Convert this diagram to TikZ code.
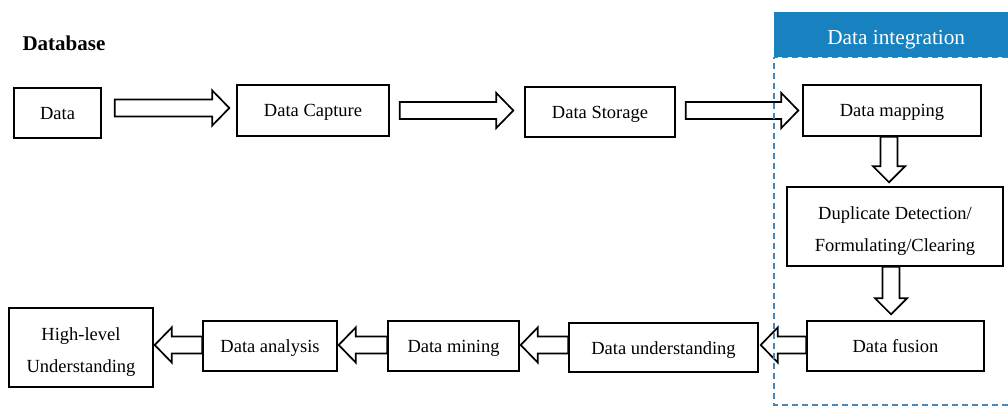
\documentclass[tikz,border=0pt]{standalone}
\usepackage{fontspec}
\setmainfont{Liberation Serif}
\usetikzlibrary{calc}

\definecolor{headblue}{RGB}{24,130,192}
\definecolor{dashblue}{RGB}{74,134,184}

\tikzset{
  stepbox/.style={draw=black, line width=1.4pt, fill=white, inner sep=0pt,
    align=center, font=\fontsize{18.5}{32}\selectfont,
    text height=13pt, text depth=0pt},
  twoline/.style={text height=49pt, text depth=0pt},
  blockarrow/.style={draw=black, line width=1.7pt, fill=white, line join=miter},
  dashline/.style={draw=dashblue, line width=1.4pt, dash pattern=on 6pt off 4pt},
  headerbox/.style={fill=headblue, minimum width=234pt, minimum height=45pt, inner sep=0pt},
}

% horizontal block arrow: tail centre #1, tip x taken from #2
\newcommand\harrow[2]{%
  \draw[blockarrow] let \p1=(#1), \p2=(#2), \n1={ifthenelse(\x2>\x1,1,-1)} in
    (\x1,{\y1+8.5pt}) -- ({\x2-\n1*17pt},{\y1+8.5pt}) -- ({\x2-\n1*17pt},{\y1+17.5pt})
    -- (\x2,\y1) -- ({\x2-\n1*17pt},{\y1-17.5pt}) -- ({\x2-\n1*17pt},{\y1-8.5pt})
    -- (\x1,{\y1-8.5pt}) -- cycle;}

% vertical block arrow: tail centre #1, tip y taken from #2
\newcommand\varrow[2]{%
  \draw[blockarrow] let \p1=(#1), \p2=(#2), \n1={ifthenelse(\y2>\y1,1,-1)} in
    ({\x1-8.5pt},\y1) -- ({\x1-8.5pt},{\y2-\n1*16pt}) -- ({\x1-16pt},{\y2-\n1*16pt})
    -- (\x1,\y2) -- ({\x1+16pt},{\y2-\n1*16pt}) -- ({\x1+8.5pt},{\y2-\n1*16pt})
    -- ({\x1+8.5pt},\y1) -- cycle;}

\begin{document}
\begin{tikzpicture}[x=1pt, y=-1pt]
\useasboundingbox (0,0) rectangle (1008,406);

% title
\node[font=\fontsize{21}{25}\selectfont\bfseries] (title) at (64,43) {Database};

% integration header
\node[headerbox, anchor=north west] (hdr) at (774,12) {};
\node[text=white, font=\fontsize{21.3}{25}\selectfont] (hdrtext) at ($(hdr.center)+(5,5)$) {Data integration};

% process steps
\node[stepbox, minimum width=87pt,  minimum height=50pt] (data)     at (57.5,113)  {Data};
\node[stepbox, minimum width=152pt, minimum height=51pt] (capture)  at (313,110.5) {Data Capture};
\node[stepbox, minimum width=150pt, minimum height=50pt] (storage)  at (600,112)   {Data Storage};
\node[stepbox, minimum width=178pt, minimum height=51pt] (mapping)  at (892,110.5) {Data mapping};
\node[stepbox, twoline, minimum width=216pt, minimum height=79pt] (dup) at (895,226.5) {Duplicate Detection/\\Formulating/Clearing};
\node[stepbox, minimum width=177pt, minimum height=50pt] (fusion)   at (895.5,346) {Data fusion};
\node[stepbox, minimum width=189pt, minimum height=49pt] (underst)  at (663.5,347.5) {Data understanding};
\node[stepbox, minimum width=131pt, minimum height=50pt] (mining)   at (453.5,346) {Data mining};
\node[stepbox, minimum width=134pt, minimum height=50pt] (analysis) at (270,346)   {Data analysis};
\node[stepbox, twoline, minimum width=144pt, minimum height=79pt] (high) at (81,347.5) {High-level\\Understanding};

% arrows along the flow
\harrow{$(data.east)+(13,-5)$}{$(capture.west)+(-7,0)$}
\harrow{$(capture.east)+(10,0)$}{$(storage.west)+(-11,0)$}
\harrow{$(storage.east)+(10,-1.5)$}{$(mapping.west)+(-4,0)$}
\varrow{$(mapping.south)+(-3,0)$}{$(dup.north)+(0,-4)$}
\varrow{$(dup.south)+(-4,0)$}{$(fusion.north)+(0,-6)$}
\harrow{$(fusion.west)+(0,-1)$}{$(underst.east)+(2,0)$}
\harrow{$(underst.west)+(0,-2.5)$}{$(mining.east)+(1,0)$}
\harrow{$(mining.west)+(0,-1)$}{$(analysis.east)+(1,0)$}
\harrow{$(analysis.west)+(0,-1)$}{$(high.east)+(1,0)$}

% dashed frame of the integration stage
\coordinate (frameBL) at (774,405);
\coordinate (frameBR) at (1008,405);
\draw[dashline] (hdr.south east) -- (hdr.south west) -- (frameBL) -- (frameBR);
\end{tikzpicture}
\end{document}
